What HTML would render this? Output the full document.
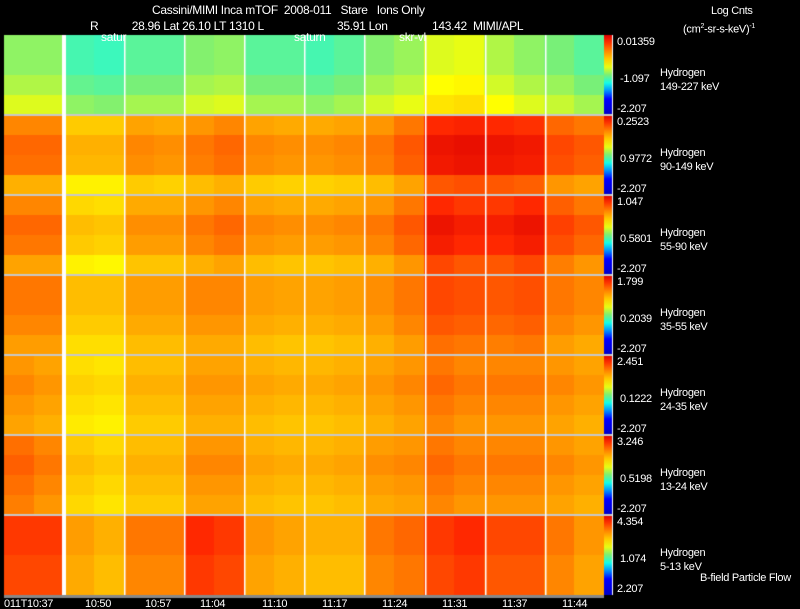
<!DOCTYPE html>
<html><head><meta charset="utf-8">
<style>
html,body{margin:0;padding:0;background:#000;}
#wrap{position:relative;width:800px;height:609px;overflow:hidden;background:#000;font-family:"Liberation Sans",Arial,sans-serif;color:#fff;}
.t{position:absolute;white-space:nowrap;font-size:12px;line-height:12px;letter-spacing:-0.3px;}
.s{font-size:11px;line-height:11px;}
canvas{position:absolute;left:0;top:0;}
</style></head>
<body>
<div id="wrap">
<canvas id="cv" width="800" height="609"></canvas>
<div class="t" style="left:152px;top:4px">Cassini/MIMI Inca mTOF&nbsp; 2008-011 &nbsp; Stare &nbsp; Ions Only</div>
<div class="t" style="left:90px;top:20px">R&nbsp;&nbsp;&nbsp;&nbsp;&nbsp;&nbsp;&nbsp;&nbsp;&nbsp;&nbsp; 28.96 Lat 26.10 LT 1310 L</div>
<div class="t" style="left:337px;top:20px">35.91 Lon</div>
<div class="t" style="left:432px;top:20px">143.42&nbsp; MIMI/APL</div>
<div class="t" style="left:101px;top:31px">satur</div>
<div class="t" style="left:294px;top:31px">saturn</div>
<div class="t" style="left:399px;top:31px">skr-vl</div>
<div class="t s" style="left:711px;top:6px">Log Cnts</div>
<div class="t s" style="left:683px;top:21px">(cm<sup style="font-size:7px">2</sup>-sr-s-keV)<sup style="font-size:7px">-1</sup></div>
<div id="labels"></div>
<div class="t s" style="left:700px;top:573px">B-field Particle Flow</div>
</div>
<script>
const panelNames = ["149-227 keV","90-149 keV","55-90 keV","35-55 keV","24-35 keV","13-24 keV","5-13 keV"];
const panelMax = ["0.01359","0.2523","1.047","1.799","2.451","3.246","4.354"];
const panelMid = ["-1.097","0.9772","0.5801","0.2039","0.1222","0.5198","1.074"];
const panelMin = ["-2.207","-2.207","-2.207","-2.207","-2.207","-2.207","2.207"];
const timeLabels = ["011T10:37","10:50","10:57","11:04","11:10","11:17","11:24","11:31","11:37","11:44"];
// normalized colour level per 30px column bin (20 bins), per panel
const p1 = [0.55,0.55,0.48,0.47,0.5,0.5,0.54,0.55,0.5,0.5,0.48,0.5,0.54,0.56,0.62,0.63,0.58,0.55,0.53,0.5];
const p2 = [0.8,0.8,0.7,0.7,0.76,0.75,0.78,0.8,0.76,0.75,0.75,0.76,0.78,0.82,0.92,0.93,0.92,0.91,0.84,0.82];
const p3 = [0.8,0.8,0.68,0.67,0.75,0.75,0.78,0.8,0.76,0.75,0.75,0.76,0.78,0.82,0.92,0.9,0.9,0.92,0.85,0.82];
const p4 = [0.8,0.8,0.7,0.7,0.75,0.75,0.78,0.78,0.75,0.74,0.74,0.75,0.77,0.8,0.86,0.85,0.84,0.85,0.8,0.78];
const p5 = [0.78,0.76,0.67,0.66,0.72,0.72,0.76,0.76,0.74,0.73,0.73,0.74,0.76,0.78,0.82,0.8,0.8,0.8,0.78,0.76];
const p6 = [0.83,0.8,0.7,0.68,0.72,0.72,0.78,0.78,0.74,0.73,0.73,0.74,0.77,0.78,0.82,0.8,0.8,0.8,0.78,0.76];
const p7 = [0.88,0.88,0.75,0.72,0.8,0.8,0.9,0.88,0.76,0.74,0.72,0.72,0.8,0.82,0.88,0.9,0.86,0.86,0.8,0.76];
const rowProfiles = [[-0.03,-0.03,0,0.04],[0,0.04,0.03,-0.06],[0,0.04,0.02,-0.04],[0.02,0.02,0,-0.03],[0,0.02,0,-0.02],[0,0.02,0,-0.02],[0.02,0.02,0,0]];
const panels=[p1,p2,p3,p4,p5,p6,p7];

function jet(v){v=Math.max(0,Math.min(1,v));
 const stops=[[0,0,0,200],[0.2,0,0,255],[0.38,0,255,255],[0.5,120,240,120],[0.62,255,255,0],[0.78,255,150,0],[0.92,255,40,0],[1,220,0,0]];
 for(let i=1;i<stops.length;i++){if(v<=stops[i][0]){const a=stops[i-1],b=stops[i],t=(v-a[0])/(b[0]-a[0]);
 return `rgb(${Math.round(a[1]+(b[1]-a[1])*t)},${Math.round(a[2]+(b[2]-a[2])*t)},${Math.round(a[3]+(b[3]-a[3])*t)})`;}}
 return "rgb(220,0,0)";}
const X0=4,X1=604,Y0=35,PH=80;
const xScale=c=>X0+c*(X1-X0)/20;
const yPanel=i=>Y0+i*PH;
const cv=document.getElementById('cv'),g=cv.getContext('2d');
panels.forEach((arr,i)=>{
 const prof=rowProfiles[i];const top=yPanel(i);
 const rowsN=16,colsN=100;
 for(let r=0;r<rowsN;r++)for(let c=0;c<colsN;c++){
  const bin=Math.floor(c/5),rb=Math.floor(r/4);
  const v=arr[bin]+prof[rb];
  g.fillStyle=jet(v);
  g.fillRect(X0+c*6,top+r*5,6,5);
 }
 const grd=g.createLinearGradient(0,top,0,top+PH);
 for(let k=0;k<=10;k++)grd.addColorStop(k/10,jet(1-k/10));
 g.fillStyle=grd;g.fillRect(604,top,8,PH);
 if(i>0){g.fillStyle="#c8c8c8";g.fillRect(X0,top-1,608,2);}
});
g.fillStyle="#fff";g.fillRect(612,Y0,1,PH*7);
g.fillStyle="#888";g.fillRect(X0,595,600,3);
g.fillStyle="#fff";
g.fillRect(62,Y0,4,560);
[124,184,244,304,364,425,485,545].forEach(x=>g.fillRect(x,Y0,1.5,560));
const L=document.getElementById('labels');
function add(txt,x,y,name){const d=document.createElement('div');d.className='t s';d.style.left=x+'px';d.style.top=y+'px';d.textContent=txt;


L.appendChild(d);}
panelNames.forEach((n,i)=>{const top=yPanel(i);
 add(panelMax[i],617,top+2,'colorbar-max');
 add(panelMid[i],620,top+39,'colorbar-mid');
 add(panelMin[i],617,top+PH-11,'colorbar-min');
 add('Hydrogen',660,top+33,'panel-species');
 add(n,660,top+47,'panel-energy');
});
const tx=[4,85,145,200,262,322,382,442,502,562];
timeLabels.forEach((t,i)=>add(t,tx[i],599,'time-tick-label'));
</script>
</body></html>
